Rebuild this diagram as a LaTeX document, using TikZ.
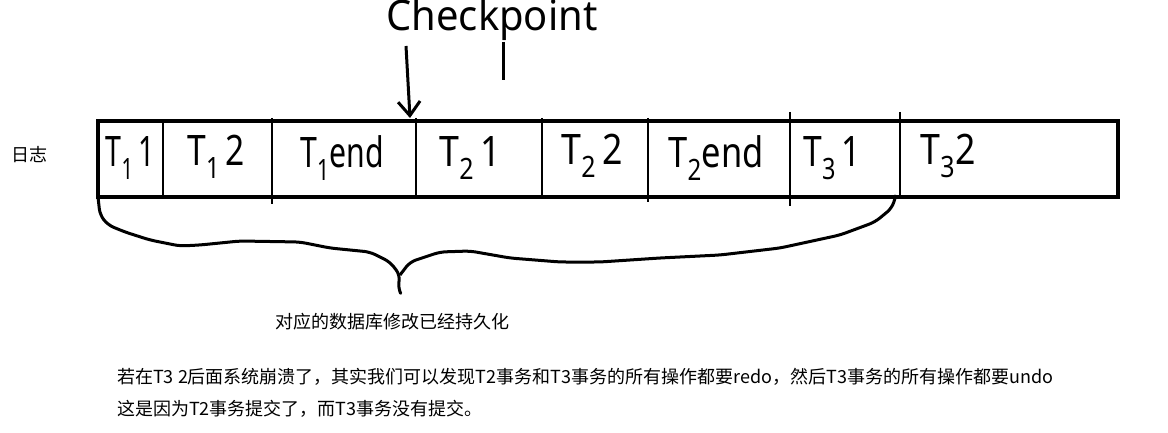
\documentclass[tikz,border=0pt]{standalone}
\usepackage{fontspec}
\setmainfont{Noto Sans}
\newfontfamily\cjk{Noto Sans CJK SC}
\newfontfamily\hand{Noto Sans}
\usetikzlibrary{arrows.meta}
\begin{document}
\begin{tikzpicture}[x=1pt,y=-1pt,
  cell/.style={inner sep=0pt, font=\hand\fontsize{42}{42}\selectfont, anchor=center},
  div/.style={line width=2.5pt},
  cjktext/.style={font=\cjk\fontsize{18}{18}\selectfont, inner sep=0pt, anchor=west},
]
\useasboundingbox (0,0) rectangle (1168,433);
% log box
\node[draw, line width=4pt, minimum width=1020pt, minimum height=76pt, anchor=north west, inner sep=0pt] (log) at (96,119) {};
\node[cjktext] (rizhi) at (11,155) {日志};
% dividers
\foreach \x/\t/\b in {163/120/197, 272/118/204, 416/118/198, 542/118/197, 648/118/202, 790/112/206, 900/112/198}{
  \draw[div] (\x,\t) -- (\x,\b);
}
% cell texts
\node[cell] (c1) at (130,158) {\scalebox{0.68}[1]{T\textsubscript{1}\,1}};
\node[cell] (c2) at (216,157) {\scalebox{0.8}[1]{T\textsubscript{1}\,2}};
\node[cell] (c3) at (342,158) {\scalebox{0.72}[1]{T\textsubscript{1}end}};
\node[cell] (c4) at (470,158) {\scalebox{0.85}[1]{T\textsubscript{2}\,1}};
\node[cell] (c5) at (592,156) {\scalebox{0.85}[1]{T\textsubscript{2}\,2}};
\node[cell] (c6) at (716,158) {\scalebox{0.82}[1]{T\textsubscript{2}end}};
\node[cell] (c7) at (832,158) {\scalebox{0.8}[1]{T\textsubscript{3}\,1}};
\node[cell] (c8) at (948,156) {\scalebox{0.85}[1]{T\textsubscript{3}2}};
% checkpoint
\node[inner sep=0pt, font=\hand\fontsize{42}{42}\selectfont] (cp) at (492,20) {\scalebox{0.95}[1]{Checkpoint}};
\draw[line width=3pt] (503,42) -- (503,80);
\coordinate (cpstart) at (406,46);
\coordinate (cpend) at (410,118);
\draw[line width=3pt, -{Straight Barb[length=14pt,width=22pt,line width=3pt]}] (cpstart) -- (cpend);
% brace
\draw[line width=3pt, line join=round, rounded corners=6pt]
  (98,197) -- (100,215) -- (108,225) -- (125,232) -- (150,240) -- (180,246) -- (200,245) -- (240,241) -- (300,242)
  -- (330,248) -- (370,252) -- (390,262) -- (400,275) coordinate (tip) -- (398,288) -- (400,292);
\draw[line width=3pt, line join=round, rounded corners=6pt]
  (tip) -- (410,262) -- (440,252) -- (470,251) -- (510,258) -- (560,262) -- (600,262) -- (660,258) -- (720,255)
  -- (780,248) -- (840,235) -- (875,222) -- (892,208) -- (896,195);
\node[cjktext] (persist) at (275,322) {对应的数据库修改已经持久化};
% bottom text
\node[cjktext] (line1) at (117,377) {若在T3 2后面系统崩溃了，其实我们可以发现T2事务和T3事务的所有操作都要redo，然后T3事务的所有操作都要undo};
\node[cjktext] (line2) at (117,409) {这是因为T2事务提交了，而T3事务没有提交。};
\end{tikzpicture}
\end{document}
